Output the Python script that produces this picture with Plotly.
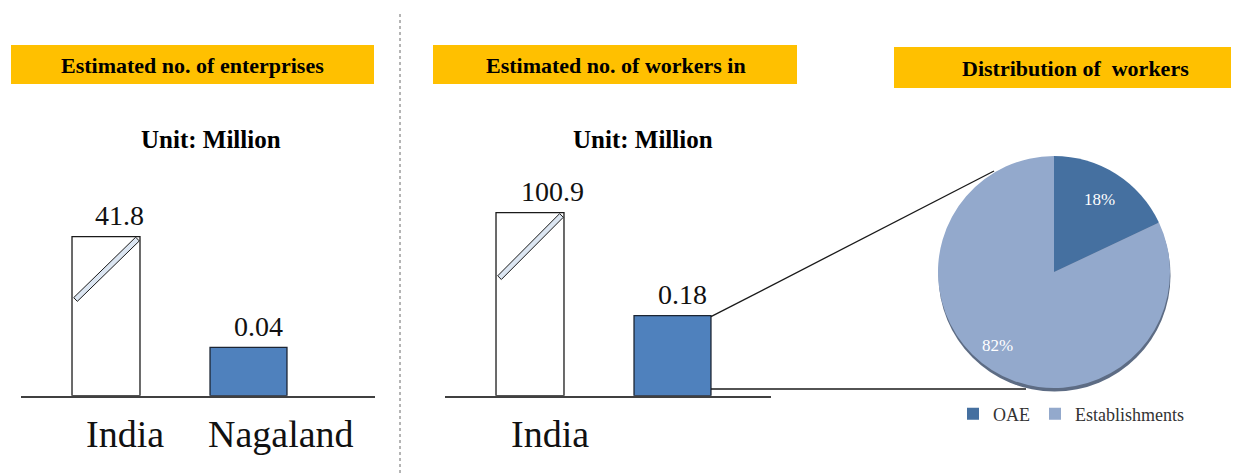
import math
import plotly.graph_objects as go

W, H = 1243, 474
FONT = "Liberation Serif"

# ---- data ----
regions = ["India", "Nagaland"]
enterprises = [41.8, 0.04]          # million
workers = [100.9, 0.18]             # million
worker_types = ["OAE", "Establishments"]
worker_share = [18, 82]             # percent
headers = ["Estimated no. of enterprises", "Estimated no. of workers in", "Distribution of  workers"]
unit_text = "Unit: Million"

# ---- geometry helpers (pixel -> paper) ----
def fx(p):
    return p / W


def fy(p):
    return 1 - p / H


BASE, TOP = 395.7, 150.0      # baseline and top of the bar plotting band (px)
STEP = 142.5                  # px between category slots
BAR_W = [0.477, 0.540]        # bar widths in category units

# each bar panel: x extent (px), px of first slot, scale max for small / large values
panels = [
    dict(x0=21, x1=375, origin=106, small_max=0.2031, big_max=64.59,
         values=enterprises, labels=regions, label_dx=[0.13, 1.228], val_dx=[0.095, 1.067]),
    dict(x0=445, x1=771, origin=530, small_max=0.5528, big_max=135.47,
         values=workers, labels=regions[:1], label_dx=[0.14], val_dx=[0.158, 1.07]),
]

fig = go.Figure()
layout_axes = {}
annotations = []
shapes = []

for i, p in enumerate(panels):
    xn = "x" if i == 0 else "x2"
    ys = "y" if i == 0 else "y3"     # small-value scale
    yb = "y2" if i == 0 else "y4"    # large-value scale (broken)
    xr = [(p["x0"] - p["origin"]) / STEP, (p["x1"] - p["origin"]) / STEP]
    p["xr"] = xr
    layout_axes["xaxis" + ("" if i == 0 else "2")] = dict(
        domain=[fx(p["x0"]), fx(p["x1"])], range=xr, anchor=ys,
        showline=True, linecolor="#404040", linewidth=1.5,
        showticklabels=False, ticks="", showgrid=False, zeroline=False, fixedrange=True)
    layout_axes["yaxis" + ("" if i == 0 else "3")] = dict(
        domain=[fy(BASE), fy(TOP)], range=[0, p["small_max"]], anchor=xn, visible=False)
    layout_axes["yaxis" + ("2" if i == 0 else "4")] = dict(
        overlaying=ys, range=[0, p["big_max"]], anchor=xn, visible=False)

    big, small = p["values"]
    fig.add_trace(go.Bar(x=[0], y=[big], width=[BAR_W[0]], xaxis=xn, yaxis=yb,
                         marker=dict(color="white", line=dict(color="#1a1a1a", width=1.3)),
                         showlegend=False, hoverinfo="skip"))
    fig.add_trace(go.Bar(x=[1], y=[small], width=[BAR_W[1]], xaxis=xn, yaxis=ys,
                         marker=dict(color="#4F81BD", line=dict(color="#1c2533", width=1.3)),
                         showlegend=False, hoverinfo="skip"))

    # value labels above bars
    for v, dx, yref in ((big, p["val_dx"][0], yb), (small, p["val_dx"][1], ys)):
        annotations.append(dict(x=dx, y=v, xref=xn, yref=yref, text=f"{v:g}",
                                showarrow=False, xanchor="center", yanchor="middle", yshift=21,
                                font=dict(family=FONT, size=28, color="#111")))
    # category labels below baseline
    for lab, dx in zip(p["labels"], p["label_dx"]):
        annotations.append(dict(x=dx, y=fy(434), xref=xn, yref="paper", text=lab,
                                showarrow=False, xanchor="center", yanchor="middle",
                                font=dict(family=FONT, size=38, color="#111")))

    # pixel positions of the bars (for the break mark and connectors)
    def xpx(v, p=p):
        return p["x0"] + (v - p["xr"][0]) / (p["xr"][1] - p["xr"][0]) * (p["x1"] - p["x0"])
    p["big_px"] = (xpx(-BAR_W[0] / 2), xpx(BAR_W[0] / 2), BASE - big / p["big_max"] * (BASE - TOP))
    p["small_px"] = (xpx(1 - BAR_W[1] / 2), xpx(1 + BAR_W[1] / 2), BASE - small / p["small_max"] * (BASE - TOP))

    # diagonal break band across the tall bar
    l, r, t = p["big_px"]
    h = BASE - t
    lo = [0.605, 0.645][i]
    ax, ay = l + 3.5, BASE - lo * h
    bx, by = r - 2.5, BASE - 0.985 * h
    dx_, dy_ = bx - ax, by - ay
    n = (dx_ ** 2 + dy_ ** 2) ** 0.5
    nx, ny = -dy_ / n * 2.6, dx_ / n * 2.6
    pts = [(ax + nx, ay + ny), (bx + nx, by + ny), (bx - nx, by - ny), (ax - nx, ay - ny)]
    path = "M " + " L ".join(f"{fx(u):.5f},{fy(w):.5f}" for u, w in pts) + " Z"
    shapes.append(dict(type="path", path=path, xref="paper", yref="paper",
                       fillcolor="#DCE6F2", line=dict(color="#1a1a1a", width=1)))

# header boxes
header_boxes = [(11, 374, 45, 84, 192.5), (433, 797, 45, 84, 615.5), (894, 1231, 47, 88, 1075.5)]
for txt, (x0, x1, y0, y1, tx) in zip(headers, header_boxes):
    shapes.append(dict(type="rect", xref="paper", yref="paper", x0=fx(x0), x1=fx(x1),
                       y0=fy(y1), y1=fy(y0), fillcolor="#FFC000", line=dict(width=0), layer="below"))
    annotations.append(dict(x=fx(tx), y=fy((y0 + y1) / 2 + 1), xref="paper", yref="paper",
                            text=f"<b>{txt}</b>", showarrow=False,
                            xanchor="center", yanchor="middle",
                            font=dict(family=FONT, size=22, color="black")))

# unit captions
for cx in (210.5, 643):
    annotations.append(dict(x=fx(cx), y=fy(139.5), xref="paper", yref="paper",
                            text=f"<b>{unit_text}</b>", showarrow=False,
                            xanchor="center", yanchor="middle",
                            font=dict(family=FONT, size=25, color="black")))

# dotted divider between the two bar panels
shapes.append(dict(type="line", xref="paper", yref="paper", x0=fx(400), x1=fx(400),
                   y0=fy(14), y1=0, line=dict(color="#6a6a6a", width=1, dash="dot")))

# connectors from the Nagaland worker bar to the pie
l, r, t = panels[1]["small_px"]
shapes.append(dict(type="line", xref="paper", yref="paper", x0=fx(r), y0=fy(t + 1),
                   x1=fx(994), y1=fy(171), line=dict(color="#1a1a1a", width=1.3)))
shapes.append(dict(type="line", xref="paper", yref="paper", x0=fx(r), y0=fy(389),
                   x1=fx(1026), y1=fy(389), line=dict(color="#1a1a1a", width=1.3)))

# pie with a soft rim underneath
PCX, PCY, PR = 1054, 272, 116
shapes.append(dict(type="circle", xref="paper", yref="paper", layer="below",
                   x0=fx(PCX - PR + 0.5), x1=fx(PCX + PR + 0.5),
                   y0=fy(PCY + PR + 3.5), y1=fy(PCY - PR + 3.5),
                   fillcolor="#5d6c84", line=dict(width=0)))
fig.add_trace(go.Pie(labels=worker_types, values=worker_share, sort=False,
                     direction="clockwise", rotation=0,
                     marker=dict(colors=["#4570A0", "#93A9CC"], line=dict(width=0)),
                     textinfo="none",
                     domain=dict(x=[fx(PCX - PR), fx(PCX + PR)], y=[fy(PCY + PR), fy(PCY - PR)]),
                     hoverinfo="label+percent"))

# percentage labels placed along each slice's bisector
total = sum(worker_share)
start = 0.0
for v, rf, rot in zip(worker_share, (0.74, 0.80), (0.0, 0.09)):
    mid = (start + v / 2) / total * 2 * math.pi + rot
    start += v
    tx = PCX + math.sin(mid) * rf * PR
    ty = PCY - math.cos(mid) * rf * PR
    annotations.append(dict(x=fx(tx), y=fy(ty), xref="paper", yref="paper",
                            text=f"{v / total * 100:.0f}%", showarrow=False,
                            xanchor="center", yanchor="middle",
                            font=dict(family=FONT, size=17, color="white")))

fig.update_layout(
    width=W, height=H, margin=dict(l=0, r=0, t=0, b=0),
    paper_bgcolor="white", plot_bgcolor="white", barmode="overlay",
    showlegend=True,
    legend=dict(orientation="h", x=fx(953), xanchor="left", y=fy(414), yanchor="middle",
                font=dict(family=FONT, size=18, color="#333"), bgcolor="rgba(0,0,0,0)",
                itemclick=False, itemdoubleclick=False),
    annotations=annotations, shapes=shapes, **layout_axes)

fig.write_html("out.html")
